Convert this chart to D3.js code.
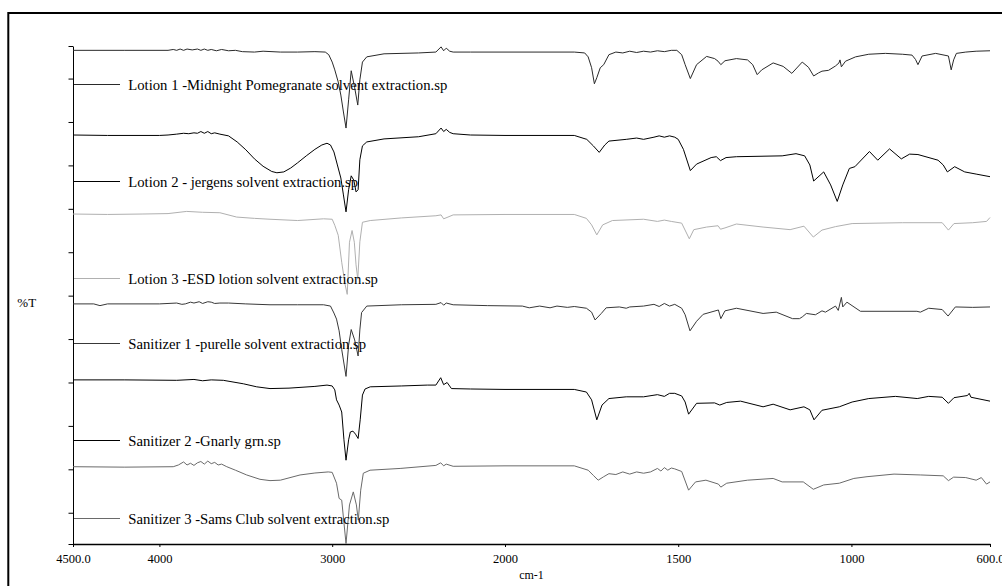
<!DOCTYPE html>
<html>
<head>
<meta charset="utf-8">
<script src="https://cdn.jsdelivr.net/npm/d3@7/dist/d3.min.js"></script>
<style>
  body { margin: 0; background: #fff; }
  svg { display: block; }
  text { font-family: "Liberation Serif", "Times New Roman", serif; }
</style>
</head>
<body>
<div class="chart"></div>
<script>
"use strict";

// x axis tick values (cm-1), IR plot with scale change at 2000
const xTicks = [4500, 4000, 3000, 2000, 1500, 1000, 600];
// y axis (%T, offset traces) ticks, unlabelled
const yTicks = [-7.2, 0, 10, 20, 30, 40, 50, 60, 70, 80, 90, 100, 107.5];

const names = [
  "Lotion 1 -Midnight Pomegranate solvent extraction.sp",
  "Lotion 2 - jergens solvent extraction.sp",
  "Lotion 3 -ESD lotion solvent extraction.sp",
  "Sanitizer 1 -purelle solvent extraction.sp",
  "Sanitizer 2 -Gnarly grn.sp",
  "Sanitizer 3 -Sams Club solvent extraction.sp"
];

// [wavenumber, %T (offset)]
const lotion1 = [
  [4500,106.5],[4200,106.5],[3950,106.5],[3920,106.7],[3900,106.5],[3880,106.8],[3860,106.5],[3840,106.8],
  [3810,106.6],[3780,106.8],[3760,106.5],[3740,106.8],[3720,106.5],[3700,106.7],[3670,106.4],[3640,106.7],
  [3600,106.4],[3560,106.5],[3520,106.2],[3450,106.1],[3400,106.3],[3300,106.1],[3200,106.1],[3100,106.2],
  [3040,106.1],[3020,105.5],[3000,103.8],[2985,102.0],[2965,99.2],[2950,96.2],[2935,92.3],[2920,88.6],
  [2905,95.1],[2890,101.8],[2870,97.9],[2852,93.9],[2840,99.7],[2825,103.8],[2800,105.0],[2700,105.7],
  [2500,105.9],[2400,106.1],[2370,107.3],[2355,106.4],[2340,107.0],[2320,106.3],[2300,106.1],[2200,106.1],
  [2000,106.1],[1800,106.1],[1770,105.9],[1760,105.0],[1750,102.5],[1742,98.8],[1735,100.2],[1725,102.5],
  [1715,103.2],[1700,105.5],[1680,106.1],[1660,105.9],[1640,106.3],[1620,106.0],[1600,106.3],[1580,106.1],
  [1560,106.4],[1540,106.2],[1520,106.5],[1504,106.5],[1490,105.5],[1480,103.2],[1465,100.0],[1447,103.2],
  [1418,105.1],[1395,104.6],[1385,104.0],[1377,103.2],[1365,104.1],[1332,104.6],[1300,104.3],[1285,103.2],
  [1272,100.9],[1259,102.0],[1226,103.6],[1197,102.8],[1172,101.2],[1142,103.8],[1124,102.6],[1109,100.6],
  [1095,101.3],[1085,101.7],[1066,101.9],[1046,102.9],[1036,103.6],[1033,104.3],[1029,102.7],[1017,104.0],
  [988,105.0],[950,105.6],[902,105.8],[853,105.6],[825,105.4],[815,104.4],[808,103.2],[796,105.2],
  [757,105.8],[720,105.2],[712,102.0],[705,104.3],[697,105.8],[670,106.1],[640,106.3],[600,106.4]
];

const lotion2 = [
  [4500,87.0],[4300,86.9],[4000,86.9],[3950,87.0],[3900,87.2],[3860,87.4],[3830,87.3],[3800,87.5],
  [3780,87.4],[3760,87.8],[3740,87.4],[3720,87.8],[3700,87.3],[3680,87.5],[3650,87.2],[3600,86.8],
  [3550,85.4],[3500,83.6],[3450,81.5],[3400,79.8],[3350,78.6],[3320,78.3],[3280,78.5],[3240,79.4],
  [3200,80.6],[3150,82.2],[3100,83.7],[3060,84.7],[3030,85.1],[3010,84.7],[2990,83.1],[2970,80.1],
  [2950,77.1],[2935,73.2],[2920,69.3],[2905,74.4],[2890,77.6],[2875,76.6],[2862,73.9],[2850,74.4],
  [2840,81.3],[2825,84.5],[2800,85.4],[2700,86.1],[2500,86.6],[2400,87.3],[2370,88.6],[2355,87.8],
  [2340,88.3],[2320,87.6],[2300,87.3],[2200,87.0],[2000,86.9],[1800,86.9],[1764,86.0],[1745,84.5],
  [1728,83.0],[1712,84.7],[1700,85.6],[1650,86.0],[1620,86.3],[1600,86.0],[1570,86.5],[1555,86.8],
  [1540,86.5],[1525,86.8],[1510,86.5],[1500,86.0],[1485,83.7],[1465,78.8],[1447,80.3],[1405,81.8],
  [1390,82.0],[1378,81.1],[1362,81.8],[1332,82.0],[1200,82.2],[1160,82.7],[1135,82.2],[1120,80.1],
  [1109,76.4],[1080,78.5],[1060,75.5],[1041,71.7],[1025,75.5],[1006,79.3],[990,79.7],[948,83.2],
  [924,81.2],[890,83.8],[856,81.5],[832,82.6],[808,82.5],[750,81.2],[735,80.1],[723,78.5],
  [702,79.7],[673,78.5],[640,78.0],[600,77.4]
];

const lotion3 = [
  [4500,68.8],[4300,68.7],[4100,68.8],[3950,68.9],[3842,69.4],[3750,69.2],[3650,69.1],[3553,68.1],
  [3450,67.8],[3360,67.6],[3200,67.3],[3050,67.7],[3000,67.6],[2985,66.2],[2965,63.9],[2945,57.7],
  [2925,52.5],[2913,50.3],[2900,62.3],[2885,65.0],[2872,62.3],[2862,57.1],[2852,53.8],[2840,62.4],
  [2825,66.9],[2780,67.3],[2600,67.9],[2400,68.4],[2370,68.6],[2355,67.7],[2330,68.1],[2300,68.6],
  [2000,68.7],[1800,68.7],[1765,67.8],[1750,66.3],[1735,64.0],[1718,66.3],[1690,67.3],[1600,67.6],
  [1560,67.1],[1540,67.4],[1520,67.1],[1490,66.7],[1468,63.1],[1455,65.2],[1418,65.8],[1385,66.1],
  [1378,65.3],[1365,65.6],[1332,66.5],[1255,65.8],[1177,65.2],[1137,66.0],[1110,63.5],[1085,65.1],
  [1046,65.9],[998,66.6],[853,66.8],[738,66.8],[720,65.1],[704,66.6],[650,66.8],[610,67.1],[600,68.0]
];

const sanitizer1 = [
  [4500,48.1],[4380,48.1],[4344,47.7],[4300,48.1],[4000,48.1],[3900,48.3],[3870,48.0],[3850,48.1],
  [3820,48.5],[3800,48.3],[3770,48.6],[3750,48.2],[3720,48.6],[3700,48.5],[3680,48.2],[3650,48.3],
  [3600,48.3],[3500,48.1],[3360,47.9],[3200,47.9],[3050,47.9],[3010,47.6],[2990,46.0],[2975,44.6],
  [2960,41.9],[2945,37.6],[2920,31.4],[2905,38.6],[2890,42.2],[2870,39.8],[2850,36.1],[2840,42.1],
  [2830,46.1],[2800,47.6],[2600,47.9],[2400,48.0],[2370,48.4],[2355,47.8],[2340,48.3],[2300,47.9],
  [2100,47.7],[1950,47.6],[1930,47.2],[1900,47.6],[1870,47.2],[1850,47.6],[1820,47.3],[1800,47.5],
  [1765,47.1],[1750,46.2],[1740,44.4],[1722,45.9],[1708,47.2],[1670,47.4],[1650,47.1],[1640,47.4],
  [1600,47.6],[1570,48.0],[1555,47.5],[1540,48.2],[1525,47.6],[1510,48.0],[1490,47.1],[1480,45.6],
  [1466,41.9],[1447,44.1],[1428,45.7],[1384,46.7],[1377,44.7],[1365,46.5],[1332,47.1],[1255,45.9],
  [1217,46.2],[1170,44.7],[1150,44.7],[1142,45.1],[1130,45.9],[1104,45.6],[1085,46.5],[1075,46.2],
  [1046,47.6],[1038,46.6],[1029,49.6],[1025,47.4],[1013,48.5],[974,46.4],[811,46.4],[801,46.2],
  [777,47.1],[738,46.8],[721,45.3],[700,47.4],[650,47.3],[600,47.4]
];

const sanitizer2 = [
  [4500,30.6],[4200,30.6],[3900,30.5],[3800,30.7],[3750,30.4],[3700,30.6],[3630,30.5],[3514,29.7],
  [3437,29.0],[3360,28.6],[3250,28.7],[3100,29.1],[3030,29.4],[3000,29.2],[2985,28.3],[2975,26.0],
  [2960,24.8],[2945,23.2],[2932,16.8],[2920,12.1],[2905,16.8],[2895,18.6],[2880,18.8],[2865,18.1],
  [2850,17.1],[2838,21.4],[2825,27.1],[2810,28.5],[2780,29.0],[2600,29.2],[2450,29.4],[2400,29.4],
  [2372,31.1],[2355,29.5],[2335,30.0],[2310,28.6],[2200,28.5],[2000,28.4],[1800,28.4],[1765,27.8],
  [1750,26.0],[1735,21.4],[1720,24.8],[1700,26.3],[1650,26.7],[1600,26.7],[1560,27.2],[1540,26.8],
  [1525,27.5],[1510,27.5],[1490,26.9],[1480,25.5],[1470,22.7],[1447,25.2],[1395,25.3],[1380,24.8],
  [1360,25.4],[1320,25.7],[1255,24.4],[1226,25.0],[1177,23.7],[1137,24.4],[1120,23.7],[1108,21.4],
  [1085,23.6],[1035,24.4],[998,25.5],[950,26.3],[873,26.8],[810,26.3],[777,26.8],[738,26.6],
  [720,25.2],[704,26.5],[665,27.0],[660,27.5],[655,26.6],[600,25.7]
];

const sanitizer3 = [
  [4500,10.6],[4200,10.5],[3920,10.6],[3890,11.0],[3860,11.7],[3840,11.0],[3820,11.4],[3800,10.9],
  [3780,11.5],[3760,11.8],[3740,11.2],[3720,11.9],[3700,11.3],[3680,11.6],[3660,11.0],[3640,11.2],
  [3610,10.6],[3560,9.8],[3495,8.7],[3418,7.7],[3360,7.4],[3300,7.5],[3186,8.7],[3100,9.15],
  [3023,9.4],[3000,9.3],[2975,6.8],[2960,3.3],[2945,2.9],[2920,-7.1],[2900,1.8],[2878,4.8],
  [2860,1.8],[2849,-1.7],[2835,5.2],[2820,9.1],[2781,9.8],[2607,10.2],[2400,10.9],[2372,11.5],
  [2355,10.8],[2340,11.2],[2300,10.7],[2000,10.8],[1800,10.8],[1760,9.8],[1745,8.6],[1731,7.5],
  [1715,8.3],[1700,9.0],[1680,8.8],[1660,9.4],[1640,8.9],[1620,9.4],[1600,9.1],[1580,9.4],
  [1560,10.2],[1550,9.6],[1540,10.4],[1530,9.8],[1520,10.3],[1510,10.1],[1490,9.5],[1470,5.2],
  [1450,7.1],[1420,7.5],[1384,6.6],[1377,5.9],[1360,6.8],[1300,7.5],[1226,7.9],[1200,7.1],
  [1139,7.1],[1110,5.4],[1080,6.4],[1035,6.8],[993,7.9],[955,8.3],[877,8.9],[800,8.7],
  [735,8.5],[720,7.4],[705,8.2],[670,8.1],[640,7.5],[625,8.1],[610,6.6],[600,7.1]
];

const spectra = [lotion1, lotion2, lotion3, sanitizer1, sanitizer2, sanitizer3];

// styles / layout
const colors = ["#2a2a2a", "#000000", "#b0b0b0", "#383838", "#000000", "#6a6a6a"];
const legendY = [84, 181, 278, 343, 440, 518];

const W = 1002, H = 586;
const plot = { left: 73, right: 990, top: 46, bottom: 544 };

const svg = d3.select(".chart").append("svg")
  .attr("width", W)
  .attr("height", H);

// outer frame
svg.append("rect")
  .attr("x", 8.3).attr("y", 13)
  .attr("width", 1010).attr("height", 600)
  .attr("fill", "none")
  .attr("stroke", "#000")
  .attr("stroke-width", 2);

// scales (x axis doubles its scale below 2000 cm-1)
let x = d3.scaleLinear()
  .domain([4500, 2000, 600])
  .range([plot.left, 505, plot.right]);
let y = d3.scaleLinear()
  .domain([-7.2, 107.5])
  .range([plot.bottom, plot.top]);

// x axis
let xAxis = svg.append("g")
  .attr("transform", "translate(0," + plot.bottom + ")")
  .call(d3.axisBottom(x)
    .tickValues(xTicks)
    .tickSize(3)
    .tickSizeOuter(0)
    .tickFormat(function (d) {
      return (d === 4500 || d === 600) ? d.toFixed(1) : String(d);
    }));
xAxis.select(".domain").attr("stroke-width", 1.3);
xAxis.selectAll("text")
  .attr("y", 19.3)
  .attr("dy", 0)
  .attr("fill", "#000")
  .style("font-size", "12.5px")
  .style("font-family", '"Liberation Serif", "Times New Roman", serif');

// y axis
let yAxis = svg.append("g")
  .attr("transform", "translate(" + plot.left + ",0)")
  .call(d3.axisLeft(y)
    .tickValues(yTicks)
    .tickSize(4.5)
    .tickSizeOuter(0)
    .tickFormat(""));

// axis titles
svg.append("text")
  .attr("x", (plot.left + plot.right) / 2)
  .attr("y", 579.3)
  .attr("text-anchor", "middle")
  .style("font-size", "12px")
  .text("cm-1");
svg.append("text")
  .attr("x", 17.3)
  .attr("y", 306.7)
  .style("font-size", "13px")
  .text("%T");

// spectra
let line = d3.line()
  .x(function (d) { return x(d[0]); })
  .y(function (d) { return y(d[1]); });

svg.append("g").selectAll("path")
  .data(spectra)
  .join("path")
  .attr("d", line)
  .attr("fill", "none")
  .attr("stroke", function (d, i) { return colors[i]; })
  .attr("stroke-width", 1)
  .attr("stroke-linejoin", "round");

// labels with short key lines
let keys = svg.append("g").selectAll("g")
  .data(names)
  .join("g")
  .attr("transform", function (d, i) { return "translate(0," + legendY[i] + ")"; });
keys.append("line")
  .attr("x1", 74).attr("x2", 120)
  .attr("y1", 0.5).attr("y2", 0.5)
  .attr("stroke", function (d, i) { return colors[i]; })
  .attr("stroke-width", 1);
keys.append("text")
  .attr("x", 128.3)
  .attr("y", 5.6)
  .style("font-size", "14.7px")
  .attr("fill", "#000")
  .text(function (d) { return d; });
</script>
</body>
</html>
